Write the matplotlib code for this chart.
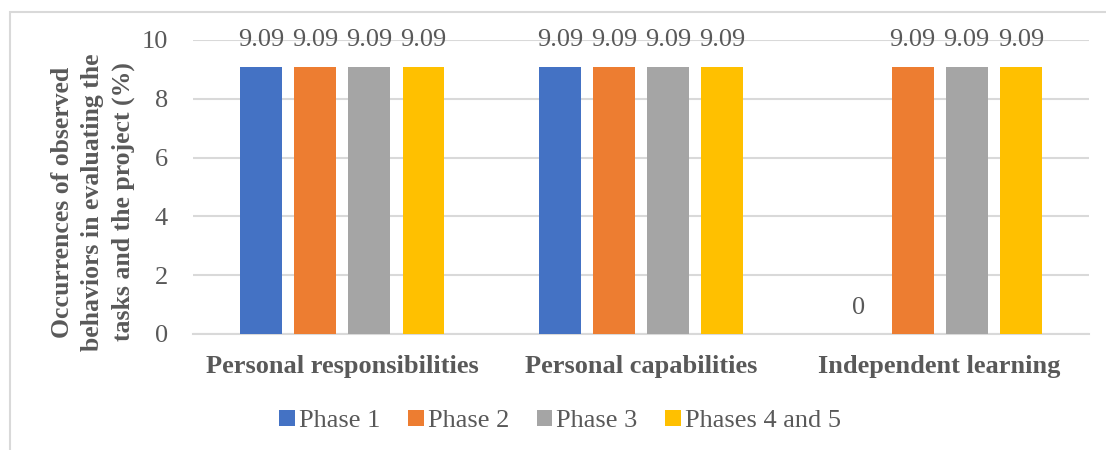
#!/usr/bin/env python3
"""Grouped bar chart: occurrences of observed behaviors per phase."""

import numpy as np
import matplotlib
matplotlib.use("Agg")
import matplotlib.pyplot as plt
from matplotlib.patches import Rectangle

categories = ["Personal responsibilities", "Personal capabilities", "Independent learning"]
series_names = ["Phase 1", "Phase 2", "Phase 3", "Phases 4 and 5"]
phase1 = [9.09, 9.09, 0]
phase2 = [9.09, 9.09, 9.09]
phase3 = [9.09, 9.09, 9.09]
phase45 = [9.09, 9.09, 9.09]
y_ticks = [0, 2, 4, 6, 8, 10]

colors = ["#4472C4", "#ED7D31", "#A5A5A5", "#FFC000"]
text_col = "#595959"
grid_col = "#D9D9D9"

plt.rcParams["font.family"] = ["Liberation Serif", "DejaVu Serif"]

fig = plt.figure(figsize=(11.06, 4.5), dpi=100)
W, H = 1106, 450
ax = fig.add_axes([193 / W, 1 - 334 / H, (1089 - 193) / W, (334 - 40) / H])

# chart-area border (only top and left show in the crop)
fig.patches.append(Rectangle((10 / W, -0.1), 1.2, 1 - 12 / H + 0.1, transform=fig.transFigure,
                             fill=False, edgecolor=grid_col, lw=1.5))

x = np.arange(len(categories))
width = 0.14
step = 0.181
for i, (name, vals) in enumerate(zip(series_names, [phase1, phase2, phase3, phase45])):
    pos = x + (i - 1.5) * step
    bars = ax.bar(pos, vals, width, color=colors[i], label=name, zorder=3)
    for b, v in zip(bars, vals):
        ax.annotate(f"{v:g}" if v == 0 else f"{v:.2f}", (b.get_x() + b.get_width() / 2, v),
                    xytext=(0, 11), textcoords="offset points", ha="center", va="bottom",
                    fontsize=19, color=text_col)

ax.set_xlim(-0.5, 2.5)
ax.set_ylim(0, 10)
ax.set_yticks(y_ticks)
ax.set_xticks(x)
ax.set_xticklabels(categories, fontsize=19, fontweight="bold", color=text_col)
ax.tick_params(axis="y", labelsize=19, labelcolor=text_col, length=0, pad=18)
ax.tick_params(axis="x", length=0, pad=15)
ax.yaxis.grid(True, color=grid_col, lw=1.5, zorder=0)
for s in ["top", "right", "left"]:
    ax.spines[s].set_visible(False)
ax.spines["bottom"].set_color(grid_col)
ax.spines["bottom"].set_linewidth(1.5)

fig.text(93 / W, 1 - 202 / H,
         "Occurrences of observed\nbehaviors in evaluating the\ntasks and the project (%)",
         rotation=90, ha="center", va="center", multialignment="center",
         fontsize=18.5, fontweight="bold", color=text_col, linespacing=1.42)

leg = fig.legend(loc="center", bbox_to_anchor=(560 / W, 1 - 421 / H), ncol=4, frameon=False,
                 fontsize=19, handlelength=0.6, handleheight=0.6, handletextpad=0.15,
                 columnspacing=1.05, labelcolor=text_col)

fig.savefig("out.png", dpi=100)
